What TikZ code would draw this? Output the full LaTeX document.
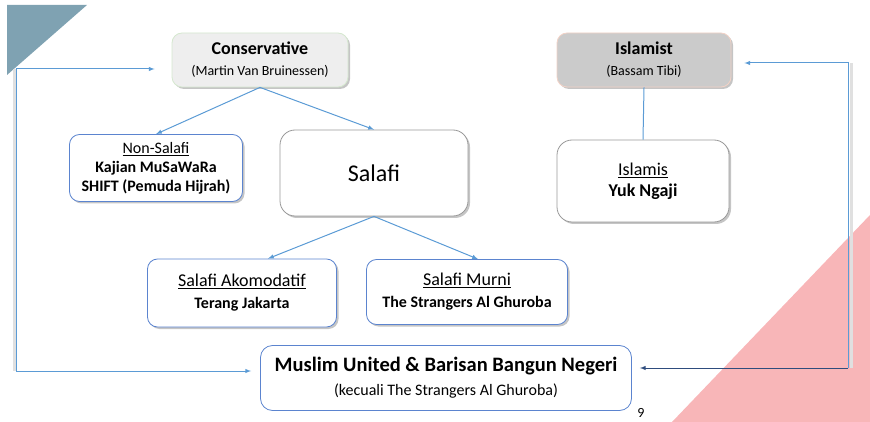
\documentclass[tikz,border=0pt]{standalone}
\usepackage{fontspec}
\setmainfont{Carlito}
\usepackage{xcolor}
\usetikzlibrary{positioning,shadows}
\definecolor{flowblue}{HTML}{5B9BD5}
\definecolor{navyflow}{HTML}{2E4C7D}
\definecolor{boxblue}{HTML}{5B84CF}
\definecolor{cornerteal}{HTML}{7FA2B2}
\definecolor{cornerpink}{HTML}{F8B6B8}
\definecolor{consfill}{HTML}{EEEEEE}
\definecolor{consline}{HTML}{D5E8CF}
\definecolor{islfill}{HTML}{CBCBCB}
\definecolor{islline}{HTML}{F2D2C6}
\tikzset{
  box/.style={rounded corners=10pt, align=center, inner sep=0pt, line width=0.8pt},
  softshadow/.style={drop shadow={shadow xshift=2pt, shadow yshift=-2pt, fill=black!45, opacity=.5}},
  flow/.style={draw=flowblue, line width=1pt},
  lineshadow/.style={draw=black!12, line width=3pt}
}

\begin{document}
\begin{tikzpicture}[x=1pt,y=-1pt,>=latex]
\useasboundingbox (0,0) rectangle (870,422);
% corner triangles
\fill[cornerteal] (7,5) -- (87,5) -- (7,75) -- cycle;
\fill[cornerpink] (870,215) -- (870,422) -- (672,422) -- cycle;

% boxes
\node[box, softshadow, fill=consfill, draw=consline, minimum width=176, minimum height=54,
      font=\fontsize{14}{21}\selectfont] (cons) at (260,60)
      {{\fontsize{18}{21}\selectfont\bfseries Conservative}\\(Martin Van Bruinessen)};
\node[box, softshadow, fill=islfill, draw=islline, minimum width=174, minimum height=54,
      font=\fontsize{14}{21}\selectfont] (islamist) at (644,60)
      {{\fontsize{18}{21}\selectfont\bfseries Islamist}\\(Bassam Tibi)};
\node[box, softshadow, fill=white, draw=boxblue, minimum width=173, minimum height=67,
      font=\fontsize{16}{19}\selectfont] (nonsalafi) at (156,168)
      {\underline{Non-Salafi}\\\textbf{Kajian MuSaWaRa}\\\textbf{SHIFT (Pemuda Hijrah)}};
\node[box, softshadow, rounded corners=15pt, fill=white, draw=black!40, minimum width=188, minimum height=86,
      font=\fontsize{24}{28}\selectfont] (salafi) at (374,173) {Salafi};
\node[box, softshadow, rounded corners=15pt, fill=white, draw=black!40, minimum width=172, minimum height=82,
      font=\fontsize{18}{21}\selectfont] (islamis) at (643,181)
      {\underline{Islamis}\\\textbf{Yuk Ngaji}};
\node[box, softshadow, fill=white, draw=boxblue, minimum width=189, minimum height=68,
      font=\fontsize{18}{22}\selectfont] (akomodatif) at (242,293)
      {\underline{Salafi Akomodatif}\\{\fontsize{16}{22}\selectfont\bfseries Terang Jakarta}};
\node[box, softshadow, fill=white, draw=boxblue, minimum width=201, minimum height=65,
      font=\fontsize{18}{22}\selectfont] (murni) at (467,292)
      {\underline{Salafi Murni}\\{\fontsize{16}{22}\selectfont\bfseries The Strangers Al Ghuroba}};
\node[box, rounded corners=12pt, fill=white, draw=boxblue, minimum width=371, minimum height=65,
      font=\fontsize{16}{24}\selectfont] (muslim) at (446,378)
      {{\fontsize{20.5}{24}\selectfont\bfseries Muslim United \& Barisan Bangun Negeri}\\(kecuali The Strangers Al Ghuroba)};

% tree links
\draw[flow,->] (cons.south) -- (nonsalafi.north);
\draw[flow,->] (cons.south) -- (salafi.north);
\draw[flow] (islamist.south) -- (islamis.north);
\draw[flow,->] (salafi.south) -- ([xshift=26]akomodatif.north);
\draw[flow,->] (salafi.south) -- ([xshift=11]murni.north);

% outer loops
\coordinate (ltop) at (16,69);
\coordinate (lbot) at (16,371);
\coordinate (rtop) at (848,63);
\coordinate (rbot) at (848,368);
\draw[lineshadow] ([xshift=-2]ltop) -- ([xshift=-2]lbot);
\draw[lineshadow] ([xshift=3]rtop) -- ([xshift=3]rbot);
\draw[flow,<->,shorten <=17pt,shorten >=9pt] (cons.west |- ltop) -- (ltop) -- (lbot) -- (muslim.west |- lbot);
\draw[flow,->,shorten >=13pt] (rbot) -- (rtop) -- (islamist.east |- rtop);
\draw[draw=navyflow,line width=1pt,->,shorten >=8pt] (rbot) -- (muslim.east |- rbot);

\node[font=\fontsize{14}{16}\selectfont] (pagenum) at (641,413) {9};
\end{tikzpicture}
\end{document}
